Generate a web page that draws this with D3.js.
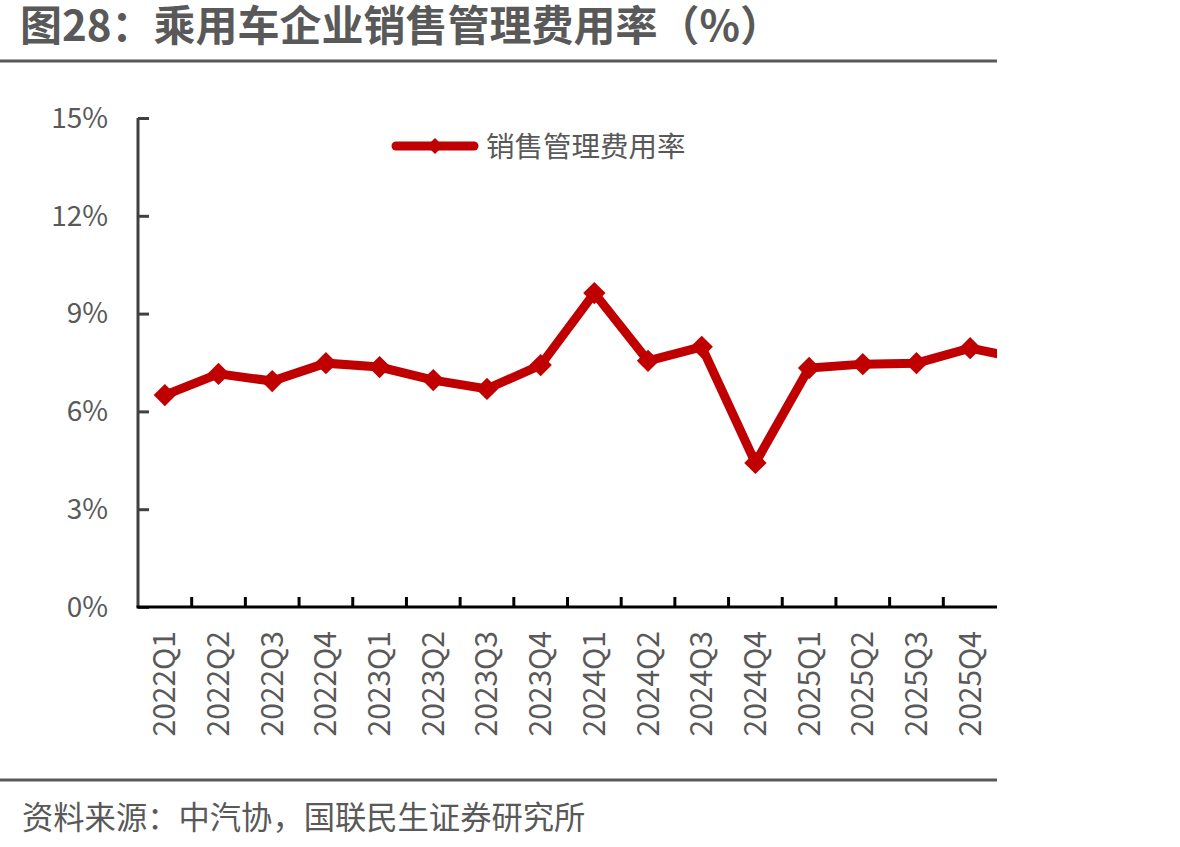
<!DOCTYPE html>
<html><head><meta charset="utf-8">
<script src="https://cdn.jsdelivr.net/npm/d3@7"></script>
<style>
html,body{margin:0;padding:0;background:#fff;}
svg{display:block;font-family:"Noto Sans CJK SC","Noto Sans",sans-serif;}
</style></head>
<body><svg id="chart" width="1180" height="847"></svg>
<script>
const titleText = "图28：乘用车企业销售管理费用率（%）";
const sourceText = "资料来源：中汽协，国联民生证券研究所";
const seriesName = "销售管理费用率";
const categories = ["2022Q1","2022Q2","2022Q3","2022Q4","2023Q1","2023Q2","2023Q3","2023Q4","2024Q1","2024Q2","2024Q3","2024Q4","2025Q1","2025Q2","2025Q3","2025Q4"];
const values = [6.50,7.15,6.93,7.48,7.36,6.96,6.69,7.42,9.63,7.55,7.98,4.42,7.33,7.45,7.48,7.94];
// the next quarter continues off the right edge of the plot (clipped in the original)
const nextValue = 7.6;
const yTicks = [0,3,6,9,12,15];

const svg = d3.select("#chart");
const L = 138, R = 997, T = 118, B = 607;
const red = "#c00000", grey = "#595959";

// title & rules
svg.append("text").attr("x",20).attr("y",41).attr("font-size",42).attr("font-weight","bold")
  .attr("fill",grey).text(titleText);
svg.append("line").attr("x1",0).attr("x2",997).attr("y1",61).attr("y2",61)
  .attr("stroke",grey).attr("stroke-width",3);
svg.append("line").attr("x1",0).attr("x2",997).attr("y1",780).attr("y2",780)
  .attr("stroke",grey).attr("stroke-width",3);
svg.append("text").attr("x",22).attr("y",829).attr("font-size",31.3)
  .attr("fill",grey).text(sourceText);

const x = d3.scaleBand().domain(categories).range([L,R]).paddingInner(0).paddingOuter(0);
const y = d3.scaleLinear().domain([0,15]).range([B,T]);
const cx = i => x(categories[i]) + x.bandwidth()/2;

// y axis
const yAxis = svg.append("g").attr("transform",`translate(${L},0)`)
  .call(d3.axisRight(y).tickValues(yTicks).tickSize(11).tickFormat(""));
yAxis.select(".domain").attr("stroke","#404040").attr("stroke-width",3).attr("d",`M0,${T}V${B}`);
yAxis.selectAll(".tick line").attr("stroke","#404040").attr("stroke-width",3);
svg.append("g").selectAll("text").data(yTicks).join("text")
  .attr("x",L-30).attr("y",d=>y(d)).attr("dy","0.35em").attr("text-anchor","end")
  .attr("font-size",28).attr("fill",grey).text(d=>d+"%");

// x axis
const bounds = categories.slice(1).map(c=>x(c));
const xAxisG = svg.append("g");
xAxisG.selectAll("line.tk").data(bounds).join("line").attr("class","tk")
  .attr("x1",d=>d).attr("x2",d=>d).attr("y1",B).attr("y2",B-10)
  .attr("stroke","#000").attr("stroke-width",3);
xAxisG.append("line").attr("x1",L-1.5).attr("x2",R).attr("y1",B).attr("y2",B)
  .attr("stroke","#000").attr("stroke-width",3);
xAxisG.selectAll("text").data(categories).join("text")
  .attr("transform",(d,i)=>`translate(${cx(i)},631) rotate(-90)`)
  .attr("text-anchor","end").attr("dy","0.35em")
  .attr("font-size",30).attr("fill",grey).text(d=>d);

// clip
svg.append("clipPath").attr("id","plotclip").append("rect")
  .attr("x",L).attr("y",0).attr("width",R-L).attr("height",B+20);

const pts = values.map((v,i)=>[cx(i), y(v)]);
const ext = pts.concat([[cx(categories.length-1)+x.step(), y(nextValue)]]);
const g = svg.append("g").attr("clip-path","url(#plotclip)");
g.append("path").attr("d",d3.line()(ext)).attr("fill","none")
  .attr("stroke",red).attr("stroke-width",9).attr("stroke-linejoin","miter");
g.selectAll("path.mk").data(pts).join("path").attr("class","mk")
  .attr("transform",d=>`translate(${d[0]},${d[1]}) rotate(45)`)
  .attr("d",d3.symbol().type(d3.symbolSquare).size(250)()).attr("fill",red);

// legend
const lg = svg.append("g");
lg.append("line").attr("x1",396).attr("x2",474).attr("y1",146).attr("y2",146)
  .attr("stroke",red).attr("stroke-width",9).attr("stroke-linecap","round");
lg.append("path").attr("transform","translate(435,146) rotate(45)")
  .attr("d",d3.symbol().type(d3.symbolSquare).size(130)()).attr("fill",red);
lg.append("text").attr("x",486).attr("y",147).attr("dy","0.35em").attr("font-size",28.5)
  .attr("fill",grey).text(seriesName);
</script></body></html>
